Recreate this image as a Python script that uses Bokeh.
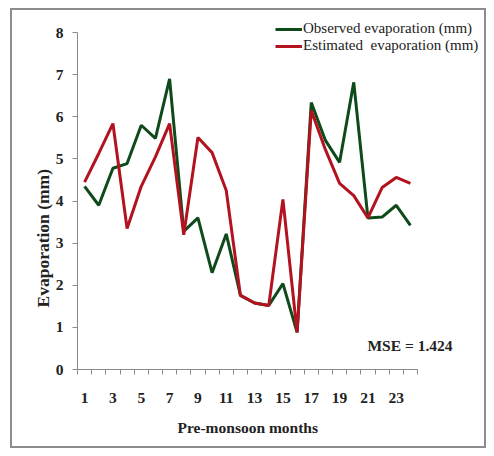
from bokeh.plotting import figure
from bokeh.models import (ColumnDataSource, FixedTicker, Legend, LegendItem, Label, Title)
from bokeh.embed import file_html
from bokeh.resources import INLINE

# Pre-monsoon months 1..24
months = list(range(1, 25))
observed = [4.35, 3.90, 4.78, 4.89, 5.80, 5.49, 6.90, 3.28, 3.60, 2.30, 3.22, 1.76,
            1.58, 1.52, 2.04, 0.88, 6.34, 5.44, 4.92, 6.82, 3.60, 3.62, 3.90, 3.42]
estimated = [4.45, 5.13, 5.84, 3.35, 4.35, 5.05, 5.84, 3.20, 5.51, 5.15, 4.25, 1.76,
             1.58, 1.52, 4.04, 0.88, 6.15, 5.22, 4.42, 4.13, 3.60, 4.32, 4.56, 4.42]
x_tick_labels = list(range(1, 24, 2))
y_ticks = list(range(0, 9))
mse_text = "MSE = 1.424"

FONT = "Liberation Serif"
GREEN = "#0f4a1b"
RED = "#b3121f"
TEXT = "#222222"
AXIS = "#8a8a8a"

src = ColumnDataSource(dict(m=months, obs=observed, est=estimated))

# The frame reaches past the axis ends so the legend and the MSE note
# (which sit outside the 0.5-24.5 / 0-8 box) are not clipped.
p = figure(width=476, height=440, output_backend="svg", toolbar_location=None,
           x_range=(0.5, 29.44), y_range=(0, 8.43),
           min_border_left=65, min_border_right=1,
           min_border_top=4, min_border_bottom=81)
p.outline_line_color = None
p.background_fill_color = "white"
p.border_fill_color = "white"
p.xgrid.visible = False
p.ygrid.visible = False
p.styles = {"border": "2px solid #8c8c8c", "margin-left": "10px", "margin-top": "8px"}

r_obs = p.line("m", "obs", source=src, line_color=GREEN, line_width=3)
r_est = p.line("m", "est", source=src, line_color=RED, line_width=3)

# x axis: labels on odd months, tick marks between categories
p.xaxis.bounds = (0.5, 24.5)
p.xaxis.ticker = FixedTicker(ticks=x_tick_labels,
                             minor_ticks=[m + 0.5 for m in range(0, 25)])
p.xaxis.major_tick_out = 0
p.xaxis.major_tick_in = 0
p.xaxis.minor_tick_out = 5
p.xaxis.minor_tick_in = 0
p.xaxis.minor_tick_line_color = AXIS
p.xaxis.axis_line_color = AXIS
p.xaxis.major_label_standoff = 18

p.yaxis.bounds = (0, 8)
p.yaxis.ticker = FixedTicker(ticks=y_ticks)
p.yaxis.minor_tick_line_color = None
p.yaxis.major_tick_out = 5
p.yaxis.major_tick_in = 0
p.yaxis.major_tick_line_color = AXIS
p.yaxis.axis_line_color = AXIS
p.yaxis.major_label_standoff = 9

for ax in (p.xaxis, p.yaxis):
    ax.major_label_text_font = FONT
    ax.major_label_text_font_style = "bold"
    ax.major_label_text_font_size = "15.5px"
    ax.major_label_text_color = TEXT

# axis titles, positioned along the axis line rather than the whole frame
p.add_layout(Title(text="Pre-monsoon months", align="left", offset=100, standoff=22,
                   text_font=FONT, text_font_style="bold", text_font_size="15.5px",
                   text_color=TEXT), "below")
p.add_layout(Title(text="Evaporation (mm)", align="left", offset=62, standoff=0,
                   text_font=FONT, text_font_style="bold", text_font_size="17.5px",
                   text_color=TEXT), "left")

legend = Legend(items=[LegendItem(label="Observed evaporation (mm)", renderers=[r_obs]),
                       LegendItem(label="Estimated  evaporation (mm)", renderers=[r_est])],
                location=(198, 315))
legend.label_text_font = FONT
legend.label_text_font_size = "15px"
legend.label_text_color = TEXT
legend.glyph_width = 27
legend.glyph_height = 14
legend.label_height = 14
legend.label_standoff = 1
legend.spacing = 0
legend.padding = 0
legend.margin = 0
legend.border_line_color = None
legend.background_fill_alpha = 0
p.add_layout(legend)

p.add_layout(Label(x=26.97, y=0.57, text=mse_text, text_align="right",
                   text_baseline="middle", text_font=FONT, text_font_style="bold",
                   text_font_size="15.5px", text_color=TEXT))

open("out.html", "w").write(file_html(p, INLINE))
